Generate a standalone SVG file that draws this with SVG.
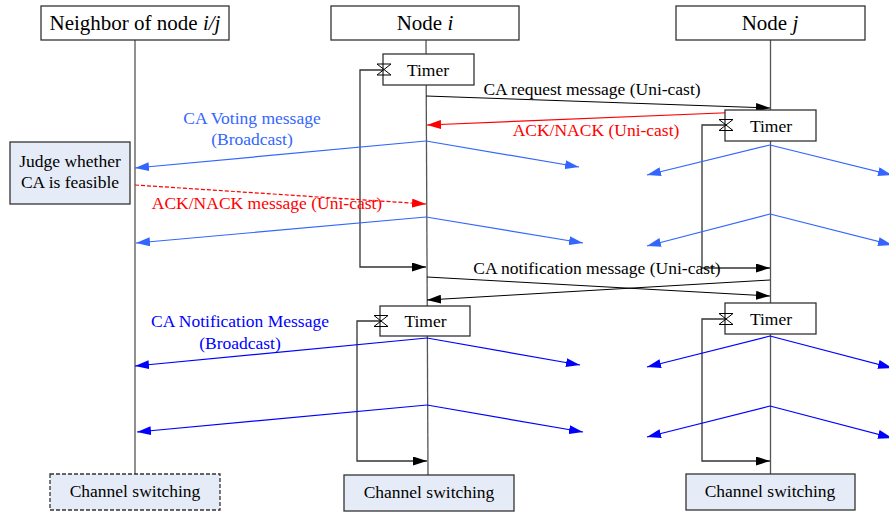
<svg xmlns="http://www.w3.org/2000/svg" width="889" height="514" viewBox="0 0 889 514">
<style>
text{font-family:"Liberation Serif","Times New Roman",serif;font-size:17.5px;text-anchor:middle;fill:#000}
.hdr{font-size:21px}
.box{fill:#fff;stroke:#333;stroke-width:1.3}
.cbox{fill:#E6ECF7;stroke:#333;stroke-width:1.3}
.life{stroke:#555;stroke-width:1.3;fill:none}
.msg{stroke:#000;stroke-width:1;fill:none}
.loop{stroke:#333;stroke-width:1.3;fill:none}
.red{stroke:#FF0000;stroke-width:1.2;fill:none}
.vb{stroke:#3366FF;stroke-width:1.2;fill:none}
.nb{stroke:#0000FF;stroke-width:1.2;fill:none}
.tr{fill:#FF0000}.tvb{fill:#3366FF}.tnb{fill:#0000FF}
.hg{stroke:#000;stroke-width:1;fill:none}
</style>
<defs>
<marker id="ak" viewBox="0 0 14 9" refX="14" refY="4.5" markerWidth="14" markerHeight="9" markerUnits="userSpaceOnUse" orient="auto"><path d="M0,0L14,4.5L0,9z" fill="#000"/></marker>
<marker id="ar" viewBox="0 0 14 9" refX="14" refY="4.5" markerWidth="14" markerHeight="9" markerUnits="userSpaceOnUse" orient="auto"><path d="M0,0L14,4.5L0,9z" fill="#FF0000"/></marker>
<marker id="av" viewBox="0 0 14 9" refX="14" refY="4.5" markerWidth="14" markerHeight="9" markerUnits="userSpaceOnUse" orient="auto"><path d="M0,0L14,4.5L0,9z" fill="#3366FF"/></marker>
<marker id="an" viewBox="0 0 14 9" refX="14" refY="4.5" markerWidth="14" markerHeight="9" markerUnits="userSpaceOnUse" orient="auto"><path d="M0,0L14,4.5L0,9z" fill="#0000FF"/></marker>
<g id="hgs"><path class="hg" d="M-7,-5.5H7L-7,5.5H7Z"/></g>
</defs>
<rect width="889" height="514" fill="#fff"/>

<g id="lifelines">
<line class="life" x1="135" y1="40" x2="135" y2="474"/>
<line class="life" x1="426" y1="40" x2="428" y2="475"/>
<line class="life" x1="770.5" y1="40" x2="770.5" y2="474"/>
</g>

<g id="connectors">
<polyline class="loop" points="383,70 360,70 360,267 426,267" marker-end="url(#ak)"/>
<polyline class="loop" points="725,125 702,125 702,268 770,268" marker-end="url(#ak)"/>
<polyline class="loop" points="380,321 357,321 357,461 427,461" marker-end="url(#ak)"/>
<polyline class="loop" points="725,319 702,319 702,461 770,461" marker-end="url(#ak)"/>
<line class="msg" x1="426" y1="96" x2="770" y2="108" marker-end="url(#ak)"/>
<line class="red" x1="770" y1="111" x2="427" y2="125" marker-end="url(#ar)"/>
<line class="vb" x1="426" y1="141" x2="135" y2="168" marker-end="url(#av)"/>
<line class="vb" x1="426" y1="141" x2="579" y2="167" marker-end="url(#av)"/>
<line class="vb" x1="770" y1="145" x2="647" y2="175" marker-end="url(#av)"/>
<line class="vb" x1="770" y1="145" x2="892" y2="175" marker-end="url(#av)"/>
<line class="red" x1="135" y1="185" x2="426" y2="204" stroke-dasharray="4,2" marker-end="url(#ar)"/>
<line class="vb" x1="426" y1="217" x2="136" y2="243" marker-end="url(#av)"/>
<line class="vb" x1="426" y1="217" x2="583" y2="243" marker-end="url(#av)"/>
<line class="vb" x1="770" y1="214" x2="647" y2="246" marker-end="url(#av)"/>
<line class="vb" x1="770" y1="214" x2="892" y2="245" marker-end="url(#av)"/>
<line class="msg" x1="427" y1="277" x2="770" y2="296" marker-end="url(#ak)"/>
<line class="msg" x1="770" y1="280" x2="427" y2="300" marker-end="url(#ak)"/>
<line class="nb" x1="427" y1="338" x2="135" y2="366" marker-end="url(#an)"/>
<line class="nb" x1="427" y1="338" x2="580" y2="365" marker-end="url(#an)"/>
<line class="nb" x1="770" y1="336" x2="647" y2="367" marker-end="url(#an)"/>
<line class="nb" x1="770" y1="336" x2="892" y2="368" marker-end="url(#an)"/>
<line class="nb" x1="427" y1="405" x2="137" y2="432" marker-end="url(#an)"/>
<line class="nb" x1="427" y1="405" x2="583" y2="432" marker-end="url(#an)"/>
<line class="nb" x1="770" y1="406" x2="647" y2="437" marker-end="url(#an)"/>
<line class="nb" x1="770" y1="406" x2="892" y2="438" marker-end="url(#an)"/>
</g>

<g id="labels">
<text x="592" y="94.5">CA request message (Uni-cast)</text>
<text class="tr" x="596" y="136">ACK/NACK (Uni-cast)</text>
<text class="tvb" x="252" y="124">CA Voting message</text>
<text class="tvb" x="252" y="144.5">(Broadcast)</text>
<text class="tr" x="267" y="209">ACK/NACK message (Uni-cast)</text>
<text x="597" y="274">CA notification message (Uni-cast)</text>
<text class="tnb" x="240" y="327">CA Notification Message</text>
<text class="tnb" x="240" y="349">(Broadcast)</text>
</g>

<g id="neighbor">
<rect class="box" x="41" y="6" width="188" height="34"/>
<text class="hdr" x="135" y="30">Neighbor of node <tspan font-style="italic">i/j</tspan></text>
</g>
<g id="node-i">
<rect class="box" x="331" y="6" width="188" height="34"/>
<text class="hdr" x="425" y="30">Node <tspan font-style="italic">i</tspan></text>
</g>
<g id="node-j">
<rect class="box" x="676" y="6" width="189" height="34"/>
<text class="hdr" x="770" y="30">Node <tspan font-style="italic">j</tspan></text>
</g>

<g id="timer-i1">
<rect class="box" x="383" y="54" width="91" height="31"/>
<use href="#hgs" x="384" y="69.5"/>
<text x="428" y="75.5">Timer</text>
</g>
<g id="timer-j1">
<rect class="box" x="725" y="110" width="91" height="31"/>
<use href="#hgs" x="726" y="125"/>
<text x="771" y="132">Timer</text>
</g>
<g id="timer-i2">
<rect class="box" x="380" y="306" width="90" height="30"/>
<use href="#hgs" x="381" y="321"/>
<text x="425.5" y="327">Timer</text>
</g>
<g id="timer-j2">
<rect class="box" x="725" y="303" width="91" height="31"/>
<use href="#hgs" x="726" y="319"/>
<text x="771" y="325">Timer</text>
</g>

<g id="judge">
<rect class="cbox" x="10" y="142" width="120" height="62"/>
<text x="70" y="167">Judge whether</text>
<text x="70" y="188">CA is feasible</text>
</g>

<g id="switch-neighbor">
<rect class="cbox" x="50" y="474" width="170" height="36" stroke-dasharray="4,2"/>
<text x="135" y="497">Channel switching</text>
</g>
<g id="switch-i">
<rect class="cbox" x="344" y="475" width="170" height="36"/>
<text x="429" y="498">Channel switching</text>
</g>
<g id="switch-j">
<rect class="cbox" x="686" y="474" width="169" height="36"/>
<text x="770" y="497">Channel switching</text>
</g>
</svg>
